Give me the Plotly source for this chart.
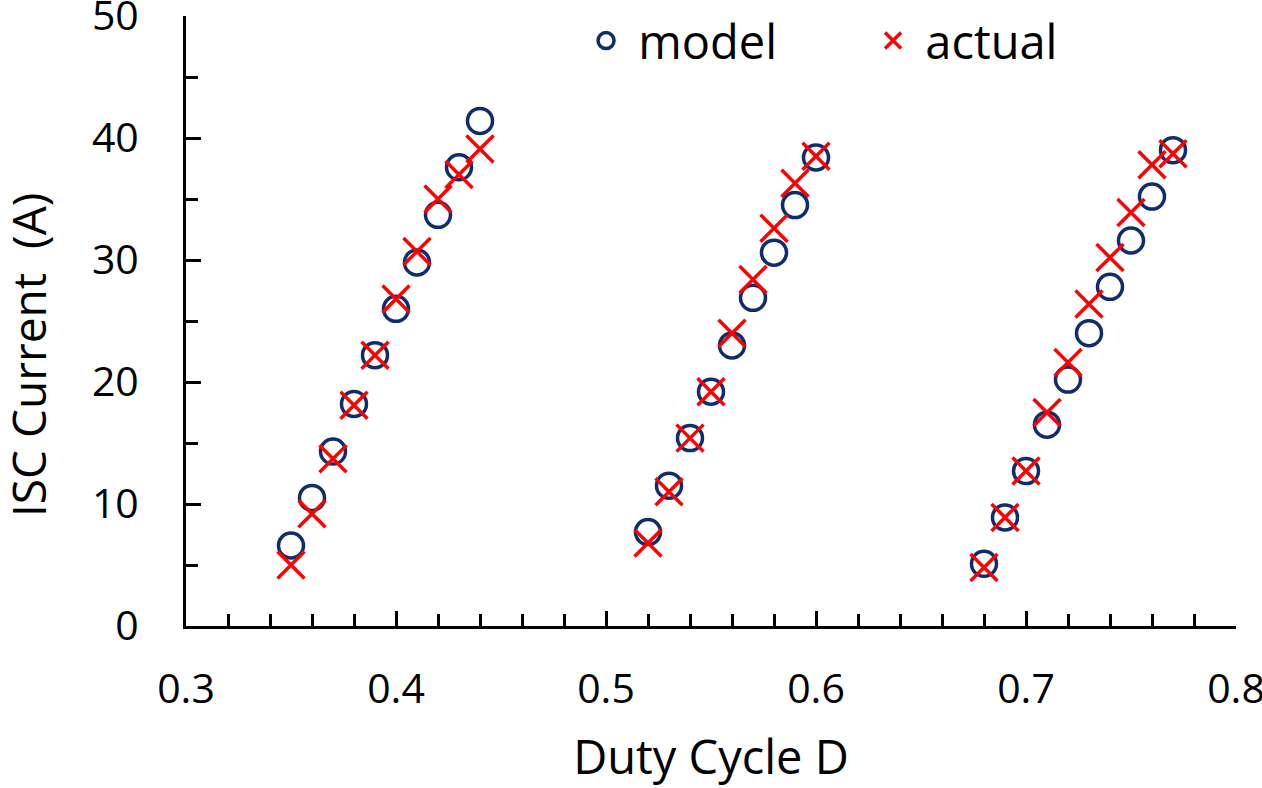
import plotly.graph_objects as go

# Duty cycle values
duty = [0.35, 0.36, 0.37, 0.38, 0.39, 0.40, 0.41, 0.42, 0.43, 0.44,
        0.52, 0.53, 0.54, 0.55, 0.56, 0.57, 0.58, 0.59, 0.60,
        0.68, 0.69, 0.70, 0.71, 0.72, 0.73, 0.74, 0.75, 0.76, 0.77]

# ISC current (A)
model_current = [6.6, 10.5, 14.3, 18.2, 22.2, 26.0, 29.8, 33.7, 37.6, 41.4,
                 7.7, 11.5, 15.4, 19.2, 23.0, 26.9, 30.6, 34.5, 38.4,
                 5.1, 8.9, 12.7, 16.5, 20.2, 24.0, 27.8, 31.6, 35.2, 39.0]
actual_current = [5.0, 9.2, 13.7, 18.1, 22.2, 26.8, 30.7, 35.0, 37.0, 39.1,
                  6.8, 11.0, 15.4, 19.2, 24.0, 28.4, 32.6, 36.3, 38.5,
                  4.8, 8.9, 12.7, 17.5, 21.6, 26.4, 30.2, 33.9, 37.8, 38.7]

x_tickvals = [0.3, 0.4, 0.5, 0.6, 0.7, 0.8]
x_ticktext = ["0.3", "0.4", "0.5", "0.6", "0.7", "0.8"]
y_tickvals = [0, 10, 20, 30, 40, 50]
y_ticktext = ["0", "10", "20", "30", "40", "50"]

FONT = "Open Sans"
NAVY = "#0f2d6e"
RED = "#ff0000"
NB = "\u00a0"

W, H = 1262, 788
ML, MR, MT, MB = 186, 26, 0, 162
PLOT_H = H - MT - MB          # paper height in px
TOP_GAP = 16                  # px between figure top and y = 50

fig = go.Figure()
fig.add_trace(go.Scatter(
    x=duty, y=model_current, mode="markers", name=NB + "model",
    marker=dict(symbol="circle-open", size=25, color=NAVY,
                line=dict(width=3.5, color=NAVY)),
))
fig.add_trace(go.Scatter(
    x=duty, y=actual_current, mode="markers", name=NB + "actual",
    marker=dict(symbol="x-thin-open", size=27, color=RED,
                line=dict(width=3.5, color=RED)),
))

axis_common = dict(
    showgrid=False, zeroline=False, showline=True, linecolor="black",
    linewidth=3, ticks="inside", tickwidth=3, tickcolor="black",
    ticklen=15, tickfont=dict(family=FONT, size=41, color="black"),
    automargin=False, ticklabeloverflow="allow",
)

fig.update_xaxes(
    range=[0.3, 0.8], tickmode="array", tickvals=x_tickvals, ticktext=x_ticktext,
    minor=dict(dtick=0.02, ticks="inside", ticklen=12, tickwidth=3, tickcolor="black"),
    ticklabelstandoff=25,
    title=dict(text="Duty Cycle D", font=dict(family=FONT, size=47, color="black"), standoff=31),
    **axis_common,
)
fig.update_yaxes(
    range=[0, 50], tickmode="array", tickvals=y_tickvals, ticktext=y_ticktext,
    domain=[0, 1 - TOP_GAP / PLOT_H],
    minor=dict(dtick=5, ticks="inside", ticklen=12, tickwidth=3, tickcolor="black"),
    ticklabelstandoff=36,
    **axis_common,
)

fig.add_annotation(
    text="ISC Current" + NB * 2 + "(A)", textangle=-90, showarrow=False,
    xref="paper", yref="paper", x=(28 - ML) / (W - ML - MR), y=(626 - 355) / PLOT_H,
    xanchor="center", yanchor="middle",
    font=dict(family=FONT, size=46, color="black"),
)

fig.update_layout(
    width=W, height=H,
    margin=dict(l=ML, r=MR, t=MT, b=MB),
    plot_bgcolor="white", paper_bgcolor="white",
    font=dict(family=FONT, color="black"),
    legend=dict(orientation="h", x=0.381, xanchor="left",
                y=1 - 41 / PLOT_H, yanchor="middle",
                font=dict(family=FONT, size=47, color="black"),
                entrywidth=242, bgcolor="rgba(0,0,0,0)"),
)

fig.write_html("out.html", config={"displayModeBar": False},
               post_script="document.body.style.margin='0';")
